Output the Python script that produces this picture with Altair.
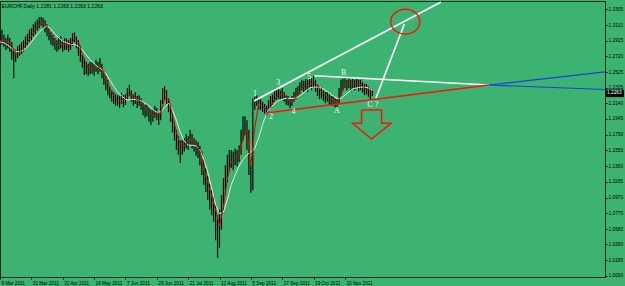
import altair as alt
import pandas as pd

# ---------------- data ----------------
# daily bars, index 0 = 9 Mar 2011
close = [
    1.292, 1.296, 1.290, 1.286, 1.292, 1.287, 1.278, 1.270, 1.274, 1.278,
    1.280, 1.282, 1.286, 1.290, 1.292, 1.297, 1.301, 1.305, 1.307, 1.311,
    1.315, 1.317, 1.312, 1.310, 1.305, 1.300, 1.295, 1.292, 1.287, 1.286,
    1.287, 1.290, 1.286, 1.289, 1.287, 1.285, 1.287, 1.295, 1.297, 1.290,
    1.282, 1.274, 1.268, 1.261, 1.258, 1.255, 1.258, 1.259, 1.255, 1.260,
    1.258, 1.261, 1.253, 1.245, 1.238, 1.233, 1.228, 1.223, 1.220, 1.218,
    1.218, 1.216, 1.220, 1.217, 1.219, 1.224, 1.230, 1.223, 1.218, 1.220,
    1.216, 1.218, 1.213, 1.208, 1.203, 1.206, 1.201, 1.196, 1.198, 1.203,
    1.201, 1.196, 1.208, 1.223, 1.228, 1.220, 1.212, 1.199, 1.187, 1.178,
    1.168, 1.162, 1.158, 1.160, 1.163, 1.168, 1.166, 1.173, 1.168, 1.162,
    1.160, 1.156, 1.149, 1.139, 1.129, 1.119, 1.109, 1.099, 1.090, 1.082,
    1.072, 1.051, 1.063, 1.088, 1.106, 1.121, 1.134, 1.144, 1.146, 1.144,
    1.149, 1.147, 1.154, 1.168, 1.187, 1.191, 1.178, 1.144, 1.119, 1.216,
    1.214, 1.218, 1.212, 1.213, 1.208, 1.206, 1.203, 1.211, 1.216, 1.218,
    1.222, 1.224, 1.227, 1.223, 1.225, 1.220, 1.218, 1.216, 1.213, 1.218,
    1.222, 1.225, 1.228, 1.233, 1.237, 1.235, 1.238, 1.235, 1.238, 1.240,
    1.243, 1.235, 1.230, 1.225, 1.228, 1.223, 1.220, 1.222, 1.218, 1.216,
    1.217, 1.214, 1.213, 1.224, 1.235, 1.238, 1.239, 1.237, 1.240, 1.235,
    1.238, 1.237, 1.239, 1.235, 1.237, 1.233, 1.230, 1.232, 1.228, 1.225,
    1.2263,
]
high = [
    1.302, 1.305, 1.299, 1.295, 1.299, 1.295, 1.290, 1.282, 1.280, 1.285,
    1.287, 1.290, 1.292, 1.297, 1.300, 1.305, 1.307, 1.312, 1.315, 1.318,
    1.321, 1.321, 1.320, 1.317, 1.312, 1.307, 1.302, 1.299, 1.295, 1.292,
    1.295, 1.297, 1.292, 1.295, 1.294, 1.292, 1.295, 1.301, 1.302, 1.297,
    1.292, 1.285, 1.275, 1.270, 1.265, 1.263, 1.265, 1.265, 1.263, 1.268,
    1.265, 1.270, 1.263, 1.255, 1.248, 1.243, 1.235, 1.230, 1.228, 1.225,
    1.224, 1.223, 1.227, 1.224, 1.225, 1.233, 1.237, 1.230, 1.225, 1.228,
    1.223, 1.224, 1.220, 1.216, 1.212, 1.213, 1.208, 1.206, 1.206, 1.211,
    1.208, 1.203, 1.218, 1.233, 1.235, 1.230, 1.220, 1.211, 1.201, 1.191,
    1.181, 1.173, 1.168, 1.168, 1.171, 1.176, 1.173, 1.181, 1.176, 1.171,
    1.168, 1.166, 1.161, 1.154, 1.144, 1.134, 1.124, 1.114, 1.106, 1.099,
    1.088, 1.075, 1.082, 1.100, 1.121, 1.137, 1.150, 1.156, 1.156, 1.154,
    1.158, 1.156, 1.162, 1.181, 1.198, 1.198, 1.193, 1.181, 1.137, 1.220,
    1.222, 1.224, 1.220, 1.219, 1.216, 1.213, 1.211, 1.218, 1.223, 1.225,
    1.230, 1.233, 1.233, 1.230, 1.233, 1.228, 1.224, 1.223, 1.220, 1.223,
    1.228, 1.233, 1.235, 1.240, 1.243, 1.242, 1.244, 1.243, 1.244, 1.245,
    1.248, 1.243, 1.237, 1.233, 1.234, 1.230, 1.228, 1.228, 1.225, 1.223,
    1.223, 1.220, 1.219, 1.233, 1.243, 1.244, 1.245, 1.243, 1.245, 1.243,
    1.244, 1.243, 1.244, 1.243, 1.243, 1.240, 1.238, 1.238, 1.235, 1.233,
    1.230,
]
low = [
    1.285, 1.287, 1.284, 1.280, 1.282, 1.278, 1.268, 1.245, 1.265, 1.270,
    1.273, 1.275, 1.278, 1.282, 1.286, 1.290, 1.292, 1.297, 1.300, 1.304,
    1.307, 1.310, 1.307, 1.302, 1.297, 1.292, 1.287, 1.285, 1.280, 1.278,
    1.280, 1.282, 1.278, 1.280, 1.280, 1.278, 1.280, 1.285, 1.290, 1.282,
    1.273, 1.265, 1.258, 1.249, 1.250, 1.248, 1.250, 1.251, 1.248, 1.253,
    1.250, 1.253, 1.245, 1.237, 1.230, 1.224, 1.220, 1.216, 1.213, 1.211,
    1.211, 1.208, 1.213, 1.209, 1.212, 1.218, 1.223, 1.216, 1.211, 1.213,
    1.208, 1.211, 1.206, 1.199, 1.196, 1.198, 1.191, 1.187, 1.191, 1.196,
    1.193, 1.187, 1.193, 1.213, 1.218, 1.213, 1.203, 1.191, 1.178, 1.168,
    1.156, 1.150, 1.140, 1.150, 1.154, 1.158, 1.156, 1.162, 1.158, 1.154,
    1.149, 1.146, 1.137, 1.125, 1.113, 1.104, 1.094, 1.082, 1.075, 1.067,
    1.044, 1.022, 1.035, 1.057, 1.082, 1.100, 1.116, 1.129, 1.134, 1.131,
    1.137, 1.136, 1.141, 1.150, 1.168, 1.175, 1.156, 1.125, 1.103, 1.106,
    1.206, 1.211, 1.206, 1.206, 1.203, 1.201, 1.198, 1.203, 1.208, 1.212,
    1.216, 1.218, 1.220, 1.218, 1.219, 1.216, 1.212, 1.211, 1.208, 1.211,
    1.216, 1.219, 1.222, 1.225, 1.230, 1.228, 1.230, 1.228, 1.233, 1.230,
    1.233, 1.228, 1.223, 1.219, 1.220, 1.217, 1.214, 1.216, 1.212, 1.211,
    1.211, 1.209, 1.208, 1.213, 1.223, 1.230, 1.233, 1.230, 1.233, 1.229,
    1.232, 1.230, 1.233, 1.229, 1.230, 1.227, 1.224, 1.225, 1.222, 1.219,
    1.223,
]
# moving averages read every second bar
red_ma = [
    1.292, 1.292, 1.291, 1.286, 1.274, 1.278, 1.282, 1.290, 1.297, 1.305,
    1.311, 1.315, 1.309, 1.300, 1.291, 1.287, 1.287, 1.287, 1.286, 1.294,
    1.290, 1.275, 1.263, 1.256, 1.258, 1.258, 1.258, 1.245, 1.233, 1.224,
    1.218, 1.218, 1.219, 1.224, 1.224, 1.218, 1.216, 1.208, 1.203, 1.198,
    1.201, 1.202, 1.219, 1.220, 1.199, 1.178, 1.163, 1.161, 1.166, 1.170,
    1.163, 1.155, 1.131, 1.116, 1.099, 1.082, 1.062, 1.085, 1.120, 1.141,
    1.146, 1.150, 1.170, 1.181, 1.137, 1.183, 1.214, 1.211, 1.206, 1.209,
    1.218, 1.224, 1.225, 1.222, 1.216, 1.218, 1.225, 1.233, 1.237, 1.237,
    1.240, 1.237, 1.228, 1.224, 1.220, 1.217, 1.214, 1.224, 1.238, 1.239,
    1.238, 1.238, 1.237, 1.233, 1.230, 1.227,
]
white_ma = [
    1.290, 1.289, 1.286, 1.282, 1.278, 1.278, 1.280, 1.284, 1.290, 1.296,
    1.302, 1.307, 1.310, 1.306, 1.300, 1.295, 1.291, 1.289, 1.287, 1.287,
    1.285, 1.280, 1.274, 1.268, 1.263, 1.259, 1.256, 1.251, 1.243, 1.235,
    1.228, 1.223, 1.219, 1.218, 1.219, 1.218, 1.217, 1.214, 1.211, 1.206,
    1.203, 1.203, 1.209, 1.214, 1.206, 1.193, 1.178, 1.167, 1.162, 1.162,
    1.161, 1.156, 1.144, 1.129, 1.109, 1.088, 1.077, 1.079, 1.094, 1.113,
    1.125, 1.136, 1.144, 1.150, 1.154, 1.158, 1.171, 1.188, 1.201, 1.209,
    1.213, 1.217, 1.219, 1.220, 1.220, 1.220, 1.222, 1.225, 1.229, 1.233,
    1.234, 1.234, 1.233, 1.230, 1.227, 1.223, 1.220, 1.220, 1.224, 1.228,
    1.232, 1.233, 1.234, 1.234, 1.233, 1.230,
]

date_ticks = [0, 16, 32, 48, 64, 80, 96, 112, 128, 144, 160, 176]
date_labels = ["9 Mar 2011", "31 Mar 2011", "22 Apr 2011", "16 May 2011",
               "7 Jun 2011", "29 Jun 2011", "21 Jul 2011", "12 Aug 2011",
               "5 Sep 2011", "27 Sep 2011", "19 Oct 2011", "10 Nov 2011"]
price_ticks = [1.3305, 1.3110, 1.2915, 1.2720, 1.2525, 1.2335, 1.2140,
               1.1945, 1.1750, 1.1555, 1.1360, 1.1165, 1.0970, 1.0775,
               1.0580, 1.0390, 1.0195, 1.0000]
last_price = [1.2263]
title_text = "EURCHF,Daily  1.2281 1.2263 1.2263 1.2263"

# hand-drawn objects (bar index, price)
white_seg_id = ["up", "up", "b", "b", "c", "c"]
white_seg_i = [129.6, 225.0, 160.4, 249.5, 191.8, 206.3]
white_seg_p = [1.2168, 1.3395, 1.2481, 1.2366, 1.2201, 1.3122]
red_seg_i = [135.7, 249.5]
red_seg_p = [1.2019, 1.2366]
blue_seg_id = ["hi", "hi", "lo", "lo"]
blue_seg_i = [249.5, 309.2, 249.5, 309.2]
blue_seg_p = [1.2366, 1.2531, 1.2366, 1.2310]
circle_i = [206.8]
circle_p = [1.3151]
arrow_i = [184.5, 194.7, 194.7, 199.5, 189.6, 179.9, 184.5, 184.5]
arrow_p = [1.2056, 1.2056, 1.1891, 1.1891, 1.1696, 1.1891, 1.1891, 1.2056]
wave_text = ["1", "2", "3", "4", "5", "B", "A", "C ?"]
wave_i = [130.1, 138.3, 142.0, 149.8, 157.8, 175.4, 171.9, 190.2]
wave_p = [1.2251, 1.1966, 1.2395, 1.2035, 1.2469, 1.2511, 1.2047, 1.2118]

# ---------------- chart ----------------
BG = "#3CB371"
FONT = "Liberation Sans"
xs = alt.Scale(domain=[0, 308.7], nice=False, zero=False)
ys = alt.Scale(domain=[0.9985, 1.3408], nice=False, zero=False)

label_expr = "[" + ",".join("'%s'" % d for d in date_labels) + "][round(datum.value/16)]"
x_axis = alt.Axis(values=date_ticks, labelExpr=label_expr, title=None, grid=False,
                  labelFontSize=4.7, labelFont=FONT, labelColor="#000000",
                  labelAlign="left", labelOffset=1, labelPadding=1, tickSize=2,
                  tickColor="#000000", domain=False, labelOverlap=False,
                  labelBound=False, labelFlush=False)
y_axis = alt.Axis(orient="right", values=price_ticks, format=".4f", title=None,
                  grid=False, labelFontSize=4.8, labelFont=FONT,
                  labelColor="#000000", labelPadding=1, tickSize=2,
                  tickColor="#000000", domain=False, labelOverlap=False,
                  labelBound=False, labelFlush=False)


def X(field):
    return alt.X(field, scale=xs, axis=x_axis)


def Y(field):
    return alt.Y(field, scale=ys, axis=y_axis)


bars = pd.DataFrame({"i": list(range(len(high))), "high": high, "low": low,
                     "close": close})
ma = pd.DataFrame({"i": list(range(0, len(high), 2)), "red": red_ma,
                   "white": white_ma})

candles = alt.Chart(bars).mark_rule(color="#050505", strokeWidth=1.2, clip=True).encode(
    x=X("i:Q"), y=Y("low:Q"), y2="high:Q", tooltip=["close:Q"])
red_line = alt.Chart(ma).mark_line(color="#e60000", strokeWidth=1, clip=True).encode(
    x=X("i:Q"), y=Y("red:Q"))
white_line = alt.Chart(ma).mark_line(color="#f2f2f2", strokeWidth=0.9, clip=True).encode(
    x=X("i:Q"), y=Y("white:Q"))

wseg = pd.DataFrame({"seg": white_seg_id, "i": white_seg_i, "p": white_seg_p})
white_segs = alt.Chart(wseg).mark_line(color="#ffffff", strokeWidth=1.6, clip=True).encode(
    x=X("i:Q"), y=Y("p:Q"), detail="seg:N")
rseg = pd.DataFrame({"i": red_seg_i, "p": red_seg_p})
red_seg = alt.Chart(rseg).mark_line(color="#ff1010", strokeWidth=1.6, clip=True).encode(
    x=X("i:Q"), y=Y("p:Q"))
bseg = pd.DataFrame({"seg": blue_seg_id, "i": blue_seg_i, "p": blue_seg_p})
blue_segs = alt.Chart(bseg).mark_line(color="#1f3fe0", strokeWidth=1.1, clip=True).encode(
    x=X("i:Q"), y=Y("p:Q"), detail="seg:N")

circ = pd.DataFrame({"i": circle_i, "p": circle_p})
ellipse = alt.Chart(circ).mark_point(
    shape="M -1 0 A 1 0.86 0 1 1 1 0 A 1 0.86 0 1 1 -1 0 Z",
    size=841, filled=False, color="#ff1010", strokeWidth=1.4, opacity=1,
).encode(x=X("i:Q"), y=Y("p:Q"))

arr = pd.DataFrame({"i": arrow_i, "p": arrow_p, "k": list(range(len(arrow_i)))})
arrow = alt.Chart(arr).mark_line(color="#ff1010", strokeWidth=1.5).encode(
    x=X("i:Q"), y=Y("p:Q"), order="k:Q")

wv = pd.DataFrame({"t": wave_text, "i": wave_i, "p": wave_p})
waves = alt.Chart(wv).mark_text(font="Liberation Serif", fontSize=8,
                                color="#f6f6ee", baseline="middle", align="center").encode(
    x=X("i:Q"), y=Y("p:Q"), text="t:N")

lp = pd.DataFrame({"p": last_price})
price_box = alt.Chart(lp).mark_point(
    shape="M -1 -0.42 L 1 -0.42 L 1 0.42 L -1 0.42 Z", size=324, filled=True,
    color="#000000", opacity=1,
).encode(x=alt.value(615), y=Y("p:Q"))
price_txt = alt.Chart(lp).mark_text(fontSize=4.8, font=FONT, color="#ffffff",
                                    align="left", baseline="middle").encode(
    x=alt.value(607), y=Y("p:Q"), text=alt.Text("p:Q", format=".4f"))

chart = alt.layer(
    candles, white_line, red_line, white_segs, red_seg, blue_segs,
    ellipse, arrow, waves, price_box, price_txt,
).properties(
    width=605, height=276, autosize="none",
    padding={"left": 0, "top": 1, "right": 20, "bottom": 9},
    background=BG,
    title=alt.TitleParams(text=title_text, anchor="start", fontSize=5.1, font=FONT,
                          fontWeight="normal", color="#000000", dx=2, dy=8,
                          offset=0, baseline="top"),
).configure_view(stroke="#0e2a16", strokeWidth=1, fill=BG)

chart.save("out.html", embed_options={"renderer": "svg", "actions": False})
